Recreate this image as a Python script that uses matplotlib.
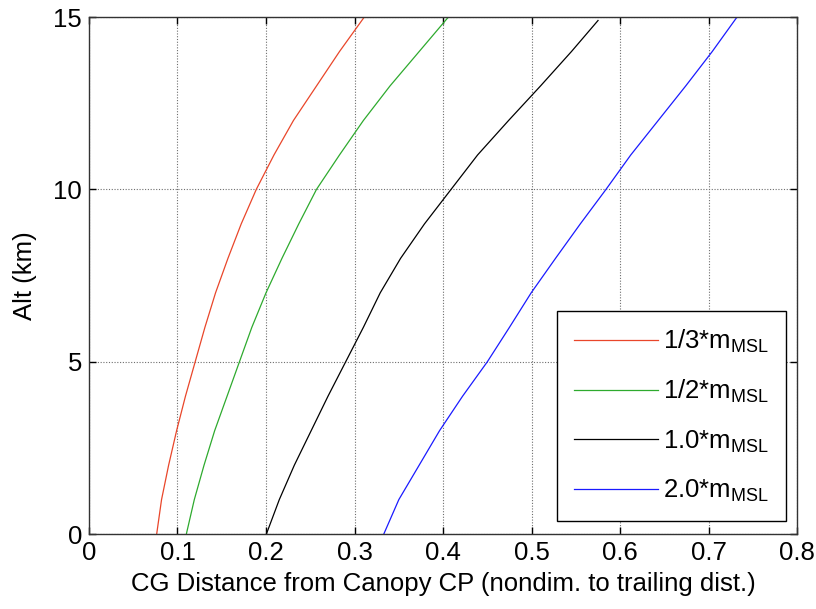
import matplotlib
matplotlib.use("Agg")
import matplotlib.pyplot as plt

plt.rcParams['font.family'] = ['Liberation Sans', 'DejaVu Sans']
plt.rcParams['mathtext.default'] = 'regular'

# altitude samples (km) and CG distance
alt = [0, 1, 2, 3, 4, 5, 6, 7, 8, 9, 10, 11, 12, 13, 14, 15]
alt_black = [0, 1, 2, 3, 4, 5, 6, 7, 8, 9, 10, 11, 12, 13, 14, 14.9]

cg_third = [0.0765, 0.082, 0.090, 0.099, 0.109, 0.120, 0.131, 0.143,
            0.157, 0.172, 0.189, 0.209, 0.231, 0.257, 0.283, 0.311]
cg_half = [0.110, 0.119, 0.130, 0.142, 0.156, 0.170, 0.184, 0.200,
           0.218, 0.237, 0.257, 0.283, 0.310, 0.340, 0.373, 0.406]
cg_one = [0.2004, 0.215, 0.232, 0.251, 0.270, 0.290, 0.310, 0.329,
          0.352, 0.379, 0.409, 0.439, 0.474, 0.510, 0.545, 0.575]
cg_two = [0.333, 0.350, 0.373, 0.396, 0.422, 0.450, 0.475, 0.4995,
          0.527, 0.555, 0.584, 0.612, 0.643, 0.674, 0.704, 0.732]

labels = [r'1/3*m$_{MSL}$', r'1/2*m$_{MSL}$', r'1.0*m$_{MSL}$', r'2.0*m$_{MSL}$']
x_ticks = [0, 0.1, 0.2, 0.3, 0.4, 0.5, 0.6, 0.7, 0.8]
x_ticklabels = ['0', '0.1', '0.2', '0.3', '0.4', '0.5', '0.6', '0.7', '0.8']
y_ticks = [0, 5, 10, 15]

fs = 18.5

fig = plt.figure(figsize=(8.16, 6.09), dpi=100)
ax = fig.add_axes([0.109, 0.123, 0.868, 0.849])

ax.plot(cg_third, alt, color='#e9462a', linewidth=0.9, label=labels[0])
ax.plot(cg_half, alt, color='#2eaa2e', linewidth=0.9, label=labels[1])
ax.plot(cg_one, alt_black, color='black', linewidth=0.9, label=labels[2])
ax.plot(cg_two, alt, color='#1a1aff', linewidth=0.9, label=labels[3])

ax.set_xlim(0, 0.8)
ax.set_ylim(0, 15)
ax.set_xticks(x_ticks)
ax.set_xticklabels(x_ticklabels)
ax.set_yticks(y_ticks)

ax.grid(True, linestyle=(0, (1, 1.5)), color='#6e6e6e', linewidth=0.8)
ax.set_axisbelow(True)
ax.tick_params(direction='in', top=True, right=True, length=5, width=1,
               labelsize=fs, pad=5)
for sp in ax.spines.values():
    sp.set_color('#333333')
    sp.set_linewidth(1.0)

ax.set_xlabel('CG Distance from Canopy CP (nondim. to trailing dist.)', fontsize=fs, labelpad=5)
ax.set_ylabel('Alt (km)', fontsize=fs, labelpad=12)

leg = ax.legend(loc='upper left', bbox_to_anchor=(0.6826, 0.4893),
                bbox_transform=fig.transFigure, borderaxespad=0, fontsize=fs,
                handlelength=3.27, handletextpad=0.2, labelspacing=0.9,
                borderpad=0.65, fancybox=False, framealpha=1)
leg.get_frame().set_edgecolor('black')
leg.get_frame().set_linewidth(1.0)

fig.savefig('out.png', dpi=100)
